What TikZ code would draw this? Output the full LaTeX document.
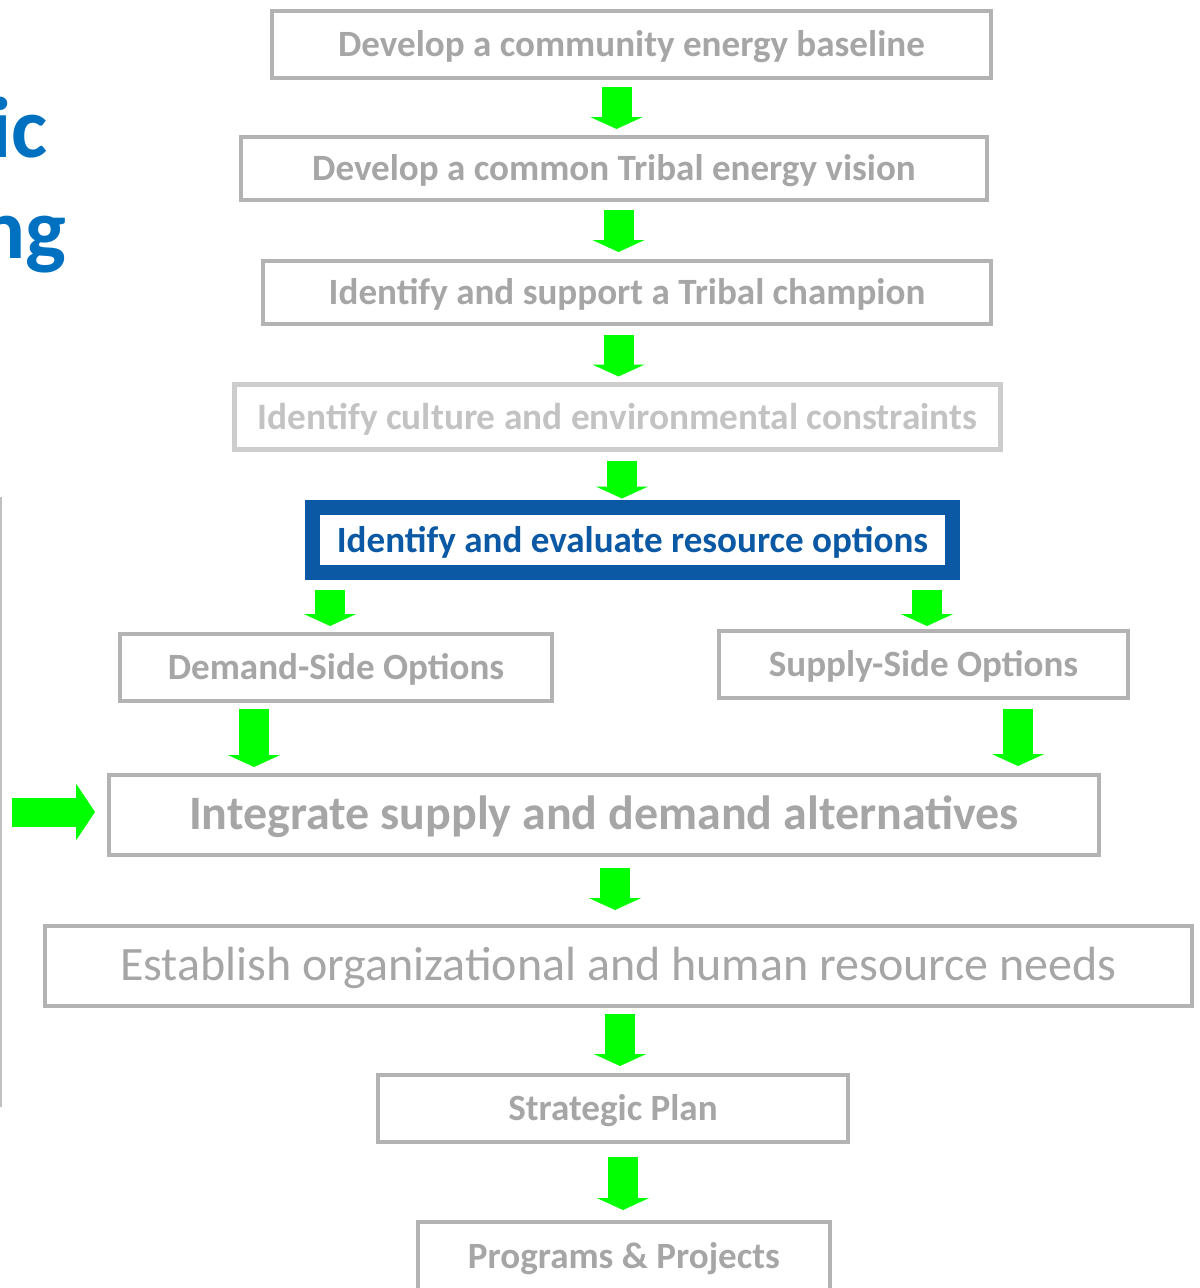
\documentclass[tikz,border=0pt]{standalone}
\usepackage{fontspec}
\setmainfont{Carlito}
\usetikzlibrary{arrows.meta,calc}
\definecolor{bgray}{HTML}{B3B3B3}
\definecolor{tgray}{HTML}{A6A6A6}
\definecolor{lgray}{HTML}{CDCDCD}
\definecolor{ltgray}{HTML}{C3C3C3}
\definecolor{dblue}{HTML}{0B59A4}
\definecolor{tblue}{HTML}{0070C0}
\definecolor{agreen}{HTML}{00FF00}
\definecolor{vline}{HTML}{C0C0C0}
\newcommand\darr[5]{\draw[garrow] ($(#3,0 |- #1.south)+(0,#4)$) -- ($(#3,0 |- #2.north)+(0,#5)$);}
\newcommand\lowr[1]{\raisebox{-1.6pt}[\height][\depth]{#1}}
\begin{document}
\begin{tikzpicture}[x=0.75pt,y=-0.75pt,
  box/.style={draw=bgray, line width=3pt, fill=white, text=tgray, inner sep=0pt,
    font=\fontsize{27.8}{32}\selectfont\bfseries},
  lightbox/.style={box, draw=lgray, line width=3.75pt, text=ltgray, font=\fontsize{28}{32}\selectfont\bfseries},
  bluebox/.style={box, draw=dblue, line width=11.25pt, text=dblue},
  bigbox/.style={box, font=\fontsize{36}{42}\selectfont\bfseries},
  regbox/.style={box, font=\fontsize{36}{42}\selectfont},
  garrow/.style={draw=agreen, line width=22.5pt, -{Triangle[width=39pt,length=9pt]}},
  harrow/.style={draw=agreen, line width=21.75pt, -{Triangle[width=42pt,length=14.25pt]}},
  title/.style={text=tblue, inner sep=0pt, font=\fontsize{64.5}{70}\selectfont\bfseries}]
\useasboundingbox (0,0) rectangle (1199,1288);
\clip (0,0) rectangle (1199,1288);
\fill[white] (0,0) rectangle (1199,1288);

% title fragments
\node[title, anchor=base east] (t1) at (48,157) {ic};
\node[title, anchor=base east] (t2) at (67,258) {ng};

% left vertical rule
\coordinate (v1) at (1,497);
\coordinate (v2) at (1,1107);
\draw[vline, line width=1.5pt] (v1) -- (v2);

% boxes
\node[box, minimum width=539.25pt, minimum height=50.25pt] (b1) at (631.5,44.5) {\lowr{Develop a community energy baseline}};
\node[box, minimum width=559.5pt, minimum height=47.25pt] (b2) at (614,168.5) {\lowr{Develop a common Tribal energy vision}};
\node[box, minimum width=546pt, minimum height=47.25pt] (b3) at (627,292.5) {\lowr{Identify and support a Tribal champion}};
\node[lightbox, minimum width=574.5pt, minimum height=48.75pt] (b4) at (617.5,417) {\lowr{Identify culture and environmental constraints}};
\node[bluebox, minimum width=480pt, minimum height=48.75pt] (b5) at (632.5,540) {\lowr{Identify and evaluate resource options}};
\node[box, minimum width=324pt, minimum height=50.25pt] (b6) at (336,667.5) {\lowr{Demand-Side Options}};
\node[box, minimum width=306.75pt, minimum height=50.25pt] (b7) at (923.5,664.5) {\lowr{Supply-Side Options}};
\node[bigbox, minimum width=742.5pt, minimum height=60pt] (b8) at (604,815) {\lowr{Integrate supply and demand alternatives}};
\node[regbox, minimum width=860.25pt, minimum height=60pt] (b9) at (618.5,966) {\lowr{Establish organizational and human resource needs}};
\node[box, minimum width=352.5pt, minimum height=50.25pt] (b10) at (613,1108.5) {\lowr{Strategic Plan}};
\node[box, minimum width=309pt, minimum height=51pt] (b11) at (624,1256) {\lowr{Programs \& Projects}};

% down arrows
\darr{b1}{b2}{616.5}{7}{-6}
\darr{b2}{b3}{618.5}{8}{-7}
\darr{b3}{b4}{618.5}{9}{-5.5}
\darr{b4}{b5}{622}{8.5}{-1.5}
\darr{b5}{b6}{330}{9.5}{-6}
\darr{b5}{b7}{927}{9.5}{-3}
\darr{b6}{b8}{254}{6}{-6}
\darr{b7}{b8}{1018}{9}{-7}
\darr{b8}{b9}{615}{11}{-14}
\darr{b9}{b10}{620}{6}{-7}
\darr{b10}{b11}{623}{13}{-10}

% side arrow into b8
\coordinate (ls) at (12,812);
\draw[harrow] (ls) -- ($(ls -| b8.west)+(-12,0)$);
\end{tikzpicture}
\end{document}
